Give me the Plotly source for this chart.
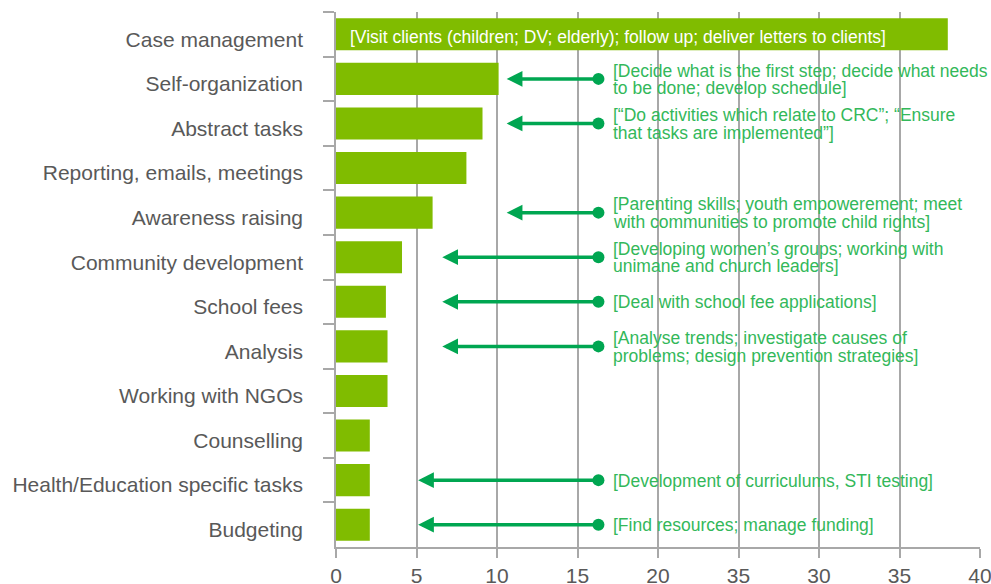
import plotly.graph_objects as go

# Share of working time per task category (%)
categories = [
    "Case management", "Self-organization", "Abstract tasks",
    "Reporting, emails, meetings", "Awareness raising",
    "Community development", "School fees", "Analysis",
    "Working with NGOs", "Counselling",
    "Health/Education specific tasks", "Budgeting",
]
values = [38.0, 10.1, 9.1, 8.1, 6.0, 4.1, 3.1, 3.2, 3.2, 2.1, 2.1, 2.1]

# Example activities for selected categories (one entry per text line)
notes = {
    "Self-organization": ["[Decide what is the first step; decide what needs",
                          "to be done; develop schedule]"],
    "Abstract tasks": ["[\u201cDo activities which relate to CRC\u201d; \u201cEnsure",
                       "that tasks are implemented\u201d]"],
    "Awareness raising": ["[Parenting skills; youth empowerement; meet",
                          "with communities to promote child rights]"],
    "Community development": ["[Developing women\u2019s groups; working with",
                              "unimane and church leaders]"],
    "School fees": ["[Deal with school fee applications]"],
    "Analysis": ["[Analyse trends; investigate causes of",
                 "problems; design prevention strategies]"],
    "Health/Education specific tasks": ["[Development of curriculums, STI testing]"],
    "Budgeting": ["[Find resources; manage funding]"],
}
# x value where each arrow points to
arrow_tips = {
    "Self-organization": 10.6, "Abstract tasks": 10.6, "Awareness raising": 10.6,
    "Community development": 6.6, "School fees": 6.6, "Analysis": 6.6,
    "Health/Education specific tasks": 5.1, "Budgeting": 5.1,
}
inside_note = "[Visit clients (children; DV; elderly); follow up; deliver letters to clients]"

tick_vals = [0, 5, 10, 15, 20, 25, 30, 35, 40]
tick_text = ["0", "5", "10", "15", "20", "35", "30", "35", "40"]

arrow_start = 16.3
note_x = 17.05

BAR = "#80bc00"
ARROW = "#00a651"
NOTE = "#33b85a"
GRID = "#a8a8a8"
LABEL = "#595959"
FONT = "Liberation Sans, Arial, sans-serif"

fig = go.Figure()
fig.add_trace(go.Bar(
    y=categories, x=values, orientation="h",
    marker=dict(color=BAR, line=dict(width=0)),
    hoverinfo="skip",
))

dot_y = list(arrow_tips.keys())
fig.add_trace(go.Scatter(
    x=[arrow_start] * len(dot_y), y=dot_y, mode="markers",
    marker=dict(color=ARROW, size=12), hoverinfo="skip", cliponaxis=False,
))

annotations = []
for cat, tip in arrow_tips.items():
    annotations.append(dict(
        x=tip, y=cat, ax=arrow_start, ay=cat, xref="x", yref="y",
        axref="x", ayref="y", text="", showarrow=True,
        arrowhead=2, arrowsize=0.9, arrowwidth=3.5, arrowcolor=ARROW,
        standoff=0, startstandoff=0,
    ))

LINE_GAP = 17.5
for cat, lines in notes.items():
    n = len(lines)
    for i, line in enumerate(lines):
        shift = -(i - (n - 1) / 2) * LINE_GAP
        annotations.append(dict(
            x=note_x, y=cat, xref="x", yref="y", text=line, showarrow=False,
            xanchor="left", yanchor="middle", yshift=shift - 0.5,
            font=dict(family=FONT, size=17.5, color=NOTE),
        ))

annotations.append(dict(
    x=0.75, y=categories[0], xref="x", yref="y", text=inside_note,
    showarrow=False, xanchor="left", yanchor="middle", yshift=-2.5,
    font=dict(family=FONT, size=17.5, color="white"),
))

fig.update_layout(
    width=991, height=584,
    margin=dict(l=336, r=11, t=12, b=37),
    plot_bgcolor="white", paper_bgcolor="white",
    showlegend=False, bargap=0.28,
    annotations=annotations,
    font=dict(family=FONT, color=LABEL),
)
fig.update_xaxes(
    range=[0, 40], tickvals=tick_vals, ticktext=tick_text,
    showgrid=True, gridcolor=GRID, gridwidth=1.5,
    showline=True, linecolor=GRID, linewidth=1.5,
    ticks="outside", ticklen=9, tickcolor=GRID, tickwidth=1.5,
    tickfont=dict(family=FONT, size=21, color=LABEL),
    ticklabeloverflow="allow", automargin=False,
    zeroline=False, fixedrange=True,
)
fig.update_yaxes(
    range=[len(categories) - 0.5, -0.5], tickson="boundaries",
    showgrid=False, showline=True, linecolor=GRID, linewidth=1.5,
    ticks="outside", ticklen=11, tickcolor=GRID, tickwidth=1.5,
    tickfont=dict(family=FONT, size=21, color=LABEL),
    ticklabelstandoff=27, ticklabelshift=-5,
    automargin=False, fixedrange=True,
)

fig.write_html("out.html")
